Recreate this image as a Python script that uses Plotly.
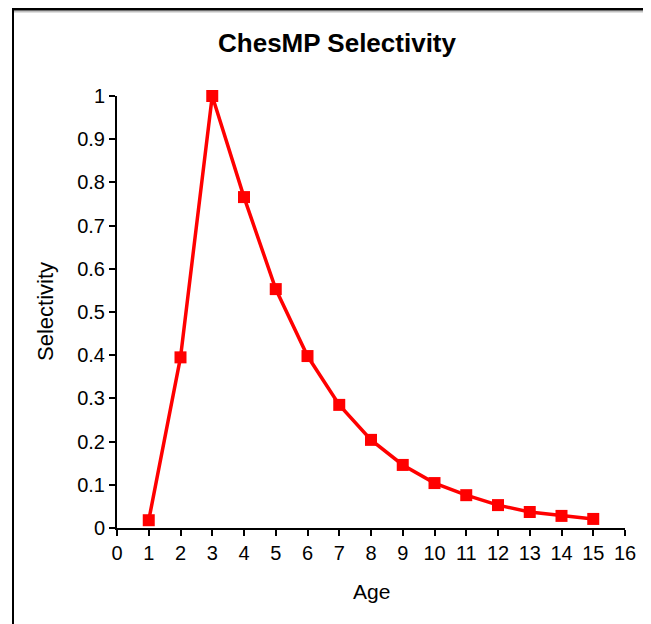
import plotly.graph_objects as go

ages = list(range(1, 16))
selectivity = [0.018, 0.395, 1.0, 0.766, 0.553, 0.398, 0.285, 0.204, 0.146,
               0.104, 0.076, 0.053, 0.037, 0.028, 0.021]
x_ticks = list(range(0, 17))
y_ticks = [round(i * 0.1, 1) for i in range(0, 11)]
y_tick_labels = ["0"] + [f"{v:.1f}" for v in y_ticks[1:-1]] + ["1"]

# page body has an 8px margin, so the figure is sized/positioned accordingly
W, H = 643, 616
L, T, pw, ph = 109, 88, 508, 432
R, B = W - L - pw, H - T - ph

def px(x):
    return (x - L) / pw

def py(y):
    return (T + ph - y) / ph

fig = go.Figure()
fig.add_trace(go.Scatter(
    x=ages, y=selectivity, mode="lines+markers",
    line=dict(color="#ff0000", width=3.5),
    marker=dict(symbol="square", size=12, color="#ff0000"),
    cliponaxis=False, showlegend=False,
))

font = "Arial, Liberation Sans, sans-serif"
fig.update_layout(
    width=W, height=H,
    margin=dict(l=L, r=R, t=T, b=B, pad=0),
    paper_bgcolor="white", plot_bgcolor="white",
    font=dict(family=font, size=20, color="black"),
    title=dict(text="<b>ChesMP Selectivity</b>", x=329 / W, xanchor="center",
               xref="container",
               y=1 - 35 / H, yanchor="middle",
               font=dict(size=26, family=font, color="black")),
    xaxis=dict(range=[0, 16], tickvals=x_ticks, ticks="outside", ticklen=6,
               tickwidth=2, tickcolor="black", showline=True, linecolor="black",
               linewidth=2, showgrid=False, zeroline=False,
               tickfont=dict(size=20)),
    yaxis=dict(range=[0, 1], tickvals=y_ticks, ticktext=y_tick_labels,
               ticks="outside", ticklen=6, tickwidth=2, tickcolor="black",
               showline=True, linecolor="black", linewidth=2, showgrid=False,
               zeroline=False, tickfont=dict(size=20)),
    annotations=[
        dict(text="Age", xref="paper", yref="paper", x=0.5, y=py(583),
             xanchor="center", yanchor="middle", showarrow=False,
             font=dict(size=21, family=font, color="black")),
        dict(text="Selectivity", xref="paper", yref="paper", x=px(37), y=0.5,
             xanchor="center", yanchor="middle", showarrow=False, textangle=-90,
             font=dict(size=22, family=font, color="black")),
    ],
    shapes=[
        dict(type="line", xref="paper", yref="paper",
             x0=px(5), x1=px(700), y0=py(3.5), y1=py(3.5),
             line=dict(color="#c0c0c0", width=2)),
        dict(type="line", xref="paper", yref="paper",
             x0=px(4), x1=px(700), y0=py(1), y1=py(1),
             line=dict(color="black", width=3)),
        dict(type="line", xref="paper", yref="paper",
             x0=px(5), x1=px(5), y0=py(1), y1=py(700),
             line=dict(color="black", width=2)),
    ],
)

fig.write_html("out.html")
